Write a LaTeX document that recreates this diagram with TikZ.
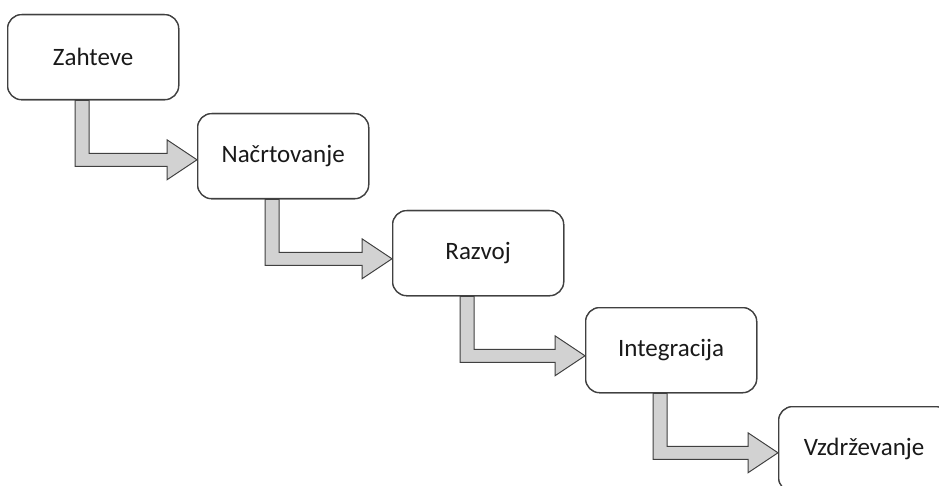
\documentclass[tikz,border=0pt]{standalone}
\usepackage{fontspec}
\setmainfont{Carlito}
\usetikzlibrary{calc}

\definecolor{boxline}{RGB}{64,64,64}
\definecolor{arrowgray}{RGB}{210,210,210}

\tikzset{
  phase/.style={draw=boxline, line width=1.3pt, fill=white, rounded corners=14pt,
    minimum width=171pt, minimum height=85pt, anchor=north west, inner sep=0pt,
    font=\fontsize{25}{30}\selectfont, text=black!90},
  bentarrow/.style={draw=boxline, line width=1pt, fill=arrowgray, line join=miter}
}

% bent block arrow from the bottom of one phase to the left side of the next
\newcommand\phasearrow[2]{%
  \coordinate (s) at ($(#1.south west)+(68,0)$);
  \coordinate (c) at ($(#1.south west)+(68,59.5)$);
  \coordinate (tip) at (#2.west |- c);
  \draw[bentarrow] (s) -- ($(s)+(0,66)$) -- ($(tip)+(-30,6.5)$) -- ($(tip)+(-30,20)$)
    -- (tip) -- ($(tip)+(-30,-20)$) -- ($(tip)+(-30,-6.5)$) -- ($(s)+(14,53)$)
    -- ($(s)+(14,0)$) -- cycle;
}

\begin{document}
\begin{tikzpicture}[x=1pt, y=-1pt]
  \useasboundingbox (0,0) rectangle (939,486);
  \clip (0,0) rectangle (939,486);
  \fill[white] (0,0) rectangle (939,486);

  % node positions only (boxes are redrawn on top of the arrows)
  \path (7,14)    node[phase] (p1) {Zahteve}
        (197,113) node[phase] (p2) {Načrtovanje}
        (392,210) node[phase] (p3) {Razvoj}
        (585,307) node[phase] (p4) {Integracija}
        (778,406) node[phase] (p5) {Vzdrževanje};

  \phasearrow{p1}{p2}
  \phasearrow{p2}{p3}
  \phasearrow{p3}{p4}
  \phasearrow{p4}{p5}

  \path (7,14)    node[phase] {Zahteve}
        (197,113) node[phase] {Načrtovanje}
        (392,210) node[phase] {Razvoj}
        (585,307) node[phase] {Integracija}
        (778,406) node[phase] {Vzdrževanje};
\end{tikzpicture}
\end{document}
